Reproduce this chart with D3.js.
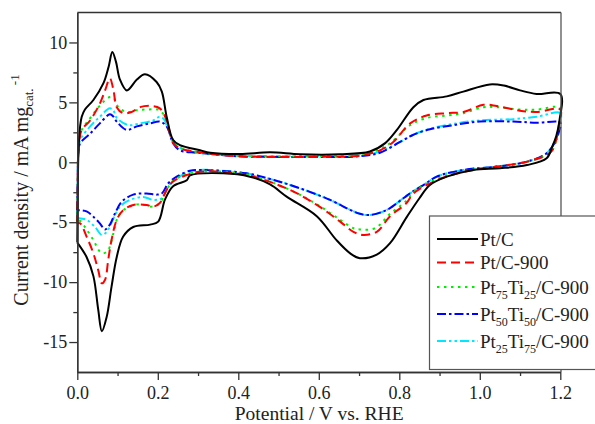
<!DOCTYPE html>
<html>
<head>
<meta charset="utf-8">
<script src="https://cdn.jsdelivr.net/npm/d3@7/dist/d3.min.js"></script>
<style>
  html, body { margin: 0; padding: 0; background: #fff; }
  svg { display: block; font-family: "Liberation Serif", "Times New Roman", serif; }
  svg text { font-family: "Liberation Serif", "Times New Roman", serif !important; fill: #222; }
</style>
</head>
<body>
<svg id="chart" width="595" height="424"></svg>
<script>
// ---- data (potential V, current density mA/mg) ----
const seriesNames = ["Pt/C", "Pt/C-900", "Pt75Ti25/C-900", "Pt50Ti50/C-900", "Pt25Ti75/C-900"];

const ptC = [
  [0,-6.7],[0.001,-3],[0.003,1],[0.007,3.0],[0.011,3.8],[0.019,4.4],[0.04,5.2],[0.065,6.6],[0.078,8.0],[0.087,9.2],
  [0.096,8.4],[0.106,6.9],[0.123,6.0],[0.148,6.9],[0.168,7.35],[0.197,6.7],[0.21,5.9],[0.222,3.8],[0.238,1.86],
  [0.255,1.44],[0.305,1.0],[0.33,0.8],[0.404,0.69],[0.479,0.83],[0.553,0.67],[0.653,0.67],[0.727,0.9],[0.765,1.6],
  [0.794,2.7],[0.835,4.6],[0.86,5.2],[0.918,5.5],[0.959,5.9],[1.025,6.5],[1.06,6.4],[1.1,6.0],[1.141,5.7],[1.2,5.7],
  [1.198,3.5],[1.19,2.2],[1.18,1.3],[1.166,0.33],[1.117,-0.23],[1.05,-0.5],[0.984,-0.64],[0.918,-1.2],[0.876,-1.9],
  [0.85,-3.0],[0.818,-4.6],[0.777,-6.75],[0.744,-7.7],[0.702,-8.0],[0.678,-7.6],[0.644,-6.5],[0.595,-4.5],[0.52,-2.87],
  [0.479,-1.85],[0.429,-1.2],[0.363,-0.92],[0.28,-1.1],[0.272,-1.5],[0.238,-2.0],[0.218,-3.1],[0.201,-4.95],[0.181,-5.2],
  [0.139,-5.4],[0.114,-6.2],[0.098,-7.9],[0.085,-10.4],[0.073,-12.9],[0.061,-14.1],[0.052,-12.3],[0.04,-9.5],
  [0.023,-7.9],[0,-6.7]
];

const ptC900 = [
  [0,-5.1],[0.001,-2],[0.002,0.5],[0.005,1.8],[0.011,2.7],[0.032,3.5],[0.056,4.9],[0.069,6.0],[0.081,7.0],[0.09,6.0],
  [0.098,4.6],[0.114,4.1],[0.135,4.2],[0.156,4.6],[0.185,4.7],[0.205,4.5],[0.222,3.5],[0.238,1.6],[0.255,1.17],
  [0.3,0.85],[0.4,0.5],[0.5,0.45],[0.6,0.45],[0.7,0.55],[0.752,1.0],[0.785,1.7],[0.827,3.25],[0.868,3.9],[0.918,4.1],
  [0.959,4.2],[1.009,4.8],[1.042,4.7],[1.1,4.3],[1.141,4.2],[1.2,4.4],
  [1.197,3.2],[1.19,1.9],[1.18,1.0],[1.166,0.6],[1.117,0.05],[1.042,-0.36],[0.959,-0.8],[0.893,-1.5],[0.835,-2.6],
  [0.818,-3.4],[0.777,-4.5],[0.744,-5.8],[0.71,-6.06],[0.686,-5.8],[0.653,-4.95],[0.595,-3.56],[0.528,-2.3],[0.42,-1.06],
  [0.305,-0.78],[0.272,-1.06],[0.238,-1.6],[0.222,-2.3],[0.205,-3.4],[0.189,-3.7],[0.172,-3.56],[0.139,-3.56],
  [0.114,-4.0],[0.098,-4.8],[0.085,-6.5],[0.077,-8.1],[0.069,-9.8],[0.061,-10.1],[0.052,-9.0],[0.04,-7.6],[0.023,-6.2],
  [0.007,-5.1],[0,-5.1]
];

const pt75 = [
  [0,-4.9],[0.001,-2],[0.002,0.5],[0.005,1.8],[0.011,2.7],[0.03,3.6],[0.048,4.4],[0.065,5.05],[0.081,5.45],[0.09,5.4],
  [0.102,4.6],[0.123,4.2],[0.148,4.35],[0.172,4.4],[0.205,4.35],[0.222,3.4],[0.238,1.7],[0.255,1.2],[0.3,0.85],
  [0.4,0.55],[0.5,0.5],[0.6,0.5],[0.7,0.6],[0.752,1.1],[0.785,1.8],[0.827,3.1],[0.868,3.7],[0.918,3.9],[0.959,4.1],
  [1.009,4.6],[1.042,4.6],[1.1,4.4],[1.141,4.4],[1.2,4.55],
  [1.197,3.2],[1.19,1.9],[1.18,1.0],[1.166,0.6],[1.117,0.05],[1.042,-0.36],[0.959,-0.75],[0.893,-1.4],[0.835,-2.5],
  [0.818,-3.2],[0.777,-4.3],[0.74,-5.5],[0.702,-5.6],[0.686,-5.5],[0.653,-4.8],[0.595,-3.5],[0.528,-2.3],[0.42,-1.0],
  [0.305,-0.78],[0.272,-1.0],[0.238,-1.55],[0.222,-2.3],[0.205,-3.4],[0.185,-3.7],[0.156,-3.5],[0.123,-3.8],
  [0.102,-4.5],[0.09,-5.9],[0.077,-7.3],[0.065,-7.6],[0.056,-7.45],[0.04,-6.5],[0.023,-5.6],[0.007,-4.9],[0,-4.9]
];

const pt50 = [
  [0,-4.0],[0.001,-1.5],[0.002,0.5],[0.004,1.2],[0.007,1.6],[0.032,2.4],[0.056,3.25],[0.081,4.0],[0.09,3.8],
  [0.098,3.4],[0.123,2.7],[0.148,3.0],[0.181,3.25],[0.205,3.4],[0.222,3.0],[0.238,1.6],[0.255,1.0],[0.3,0.8],
  [0.4,0.5],[0.5,0.45],[0.6,0.45],[0.7,0.5],[0.752,0.8],[0.802,1.7],[0.835,2.3],[0.876,2.75],[0.934,3.1],[1.0,3.4],
  [1.083,3.4],[1.141,3.3],[1.2,3.3],
  [1.197,2.6],[1.187,1.7],[1.166,0.75],[1.117,0.05],[1.042,-0.36],[0.959,-0.64],[0.893,-1.2],[0.86,-1.9],[0.835,-2.4],
  [0.81,-3.0],[0.769,-3.97],[0.727,-4.4],[0.702,-4.3],[0.678,-3.97],[0.628,-3.14],[0.553,-2.17],[0.487,-1.47],
  [0.42,-0.92],[0.3,-0.64],[0.28,-0.7],[0.247,-1.2],[0.226,-1.75],[0.21,-2.6],[0.197,-2.7],[0.172,-2.6],[0.139,-2.7],
  [0.11,-3.3],[0.094,-4.25],[0.081,-5.2],[0.069,-5.6],[0.056,-5.1],[0.044,-4.67],[0.023,-4.1],[0.002,-4.0],[0,-4.0]
];

const pt25 = [
  [0,-4.67],[0.001,-1.5],[0.002,0.5],[0.004,1.3],[0.007,1.86],[0.032,3.0],[0.056,3.8],[0.081,4.5],[0.09,4.3],
  [0.098,3.7],[0.127,3.1],[0.156,3.25],[0.189,3.5],[0.205,3.8],[0.215,3.6],[0.23,2.4],[0.247,1.44],[0.28,0.9],
  [0.4,0.55],[0.5,0.5],[0.6,0.5],[0.7,0.55],[0.752,0.9],[0.802,1.7],[0.835,2.3],[0.876,2.8],[0.934,3.2],[1.0,3.5],
  [1.083,3.6],[1.141,3.8],[1.2,4.1],
  [1.197,3.0],[1.187,1.8],[1.166,0.75],[1.117,0.05],[1.042,-0.36],[0.959,-0.64],[0.893,-1.2],[0.86,-1.9],[0.835,-2.4],
  [0.81,-3.0],[0.769,-3.97],[0.727,-4.4],[0.702,-4.3],[0.678,-3.97],[0.628,-3.14],[0.553,-2.17],[0.487,-1.47],
  [0.42,-0.92],[0.3,-0.64],[0.28,-0.8],[0.247,-1.33],[0.226,-2.0],[0.21,-3.0],[0.189,-3.14],[0.164,-2.9],[0.131,-3.14],
  [0.106,-3.7],[0.09,-4.67],[0.073,-5.8],[0.061,-6.06],[0.044,-5.4],[0.023,-4.8],[0.002,-4.67],[0,-4.67]
];

const xMajorTicks = [0.0, 0.2, 0.4, 0.6, 0.8, 1.0, 1.2];
const xMinorTicks = [0.1, 0.3, 0.5, 0.7, 0.9, 1.1];
const yMajorTicks = [-15, -10, -5, 0, 5, 10];
const yMinorTicks = [-12.5, -7.5, -2.5, 2.5, 7.5];

// ---- layout ----
const FONT = "Liberation Serif, Times New Roman, serif";
const svg = d3.select("#chart");
const L = 77.3, R = 561, T = 12.5, B = 372;
const x = d3.scaleLinear().domain([0, 1.2]).range([L, 560.3]);
const y = d3.scaleLinear().domain([-17.5, 12.5]).range([B, T]);

const styles = [
  { data: ptC,    color: "#000000", dash: null },
  { data: ptC900, color: "#ff0000", dash: "9,5" },
  { data: pt75,   color: "#00ee00", dash: "2.5,4.5" },
  { data: pt50,   color: "#0000ff", dash: "9,3,2.5,3" },
  { data: pt25,   color: "#00e8ff", dash: "9,3,2.5,3,2.5,3" }
];

const line = d3.line().x(d => x(d[0])).y(d => y(d[1])).curve(d3.curveCatmullRom.alpha(0.5));

// draw order: back to front
const order = [4, 3, 2, 1, 0];
order.forEach(i => {
  const s = styles[i];
  svg.append("path")
    .attr("d", line(s.data))
    .attr("fill", "none")
    .attr("stroke", s.color)
    .attr("stroke-width", 2)
    .attr("stroke-linejoin", "round")
    .attr("stroke-dasharray", s.dash);
});

// frame top and right
svg.append("line").attr("x1", L).attr("x2", R).attr("y1", T).attr("y2", T)
  .attr("stroke", "#333").attr("stroke-width", 1.3);
svg.append("line").attr("x1", R).attr("x2", R).attr("y1", T).attr("y2", B)
  .attr("stroke", "#555").attr("stroke-width", 1.3);

// axes
const xAxis = svg.append("g").attr("transform", `translate(0,${B})`)
  .call(d3.axisBottom(x).tickValues(xMajorTicks).tickSize(8).tickSizeOuter(0).tickPadding(6)
    .tickFormat(d3.format(".1f")));
const xMinor = svg.append("g").attr("transform", `translate(0,${B})`)
  .call(d3.axisBottom(x).tickValues(xMinorTicks).tickSize(4).tickSizeOuter(0).tickFormat(""));
const yAxis = svg.append("g").attr("transform", `translate(${L},0)`)
  .call(d3.axisLeft(y).tickValues(yMajorTicks).tickSize(8).tickSizeOuter(0).tickPadding(2)
    .tickFormat(d => String(d)));
const yMinor = svg.append("g").attr("transform", `translate(${L},0)`)
  .call(d3.axisLeft(y).tickValues(yMinorTicks).tickSize(4).tickSizeOuter(0).tickFormat(""));

[xAxis, xMinor, yAxis, yMinor].forEach(g => {
  g.attr("font-family", FONT);
  g.selectAll("path.domain").attr("stroke", "#333").attr("stroke-width", 1.3);
  g.selectAll(".tick line").attr("stroke", "#333").attr("stroke-width", 1.3);
  g.selectAll(".tick text").attr("font-size", 18).attr("fill", "#222").attr("font-family", FONT);
});

// axis titles
svg.append("text").attr("x", (L + R) / 2).attr("y", 420).attr("text-anchor", "middle")
  .attr("font-family", FONT).attr("font-size", 19.5).text("Potential / V vs. RHE");

const yt = svg.append("text").attr("transform", "translate(28,190) rotate(-90)")
  .attr("text-anchor", "middle").attr("font-family", FONT).attr("font-size", 20);
yt.append("tspan").text("Current density / mA mg");
yt.append("tspan").attr("font-size", 13).attr("dy", 5).text("cat.");
yt.append("tspan").attr("font-size", 13).attr("dy", -14).text(" -1");

// legend
const lg = svg.append("g").attr("font-family", FONT);
lg.append("rect").attr("x", 429.5).attr("y", 216).attr("width", 180).attr("height", 153.5)
  .attr("fill", "#fff").attr("stroke", "#555").attr("stroke-width", 1.2);

const legendY = [239, 262.5, 287, 314, 341];
const legendLabels = [
  [["Pt/C", false]],
  [["Pt/C-900", false]],
  [["Pt", false], ["75", true], ["Ti", false], ["25", true], ["/C-900", false]],
  [["Pt", false], ["50", true], ["Ti", false], ["50", true], ["/C-900", false]],
  [["Pt", false], ["25", true], ["Ti", false], ["75", true], ["/C-900", false]]
];
styles.forEach((s, i) => {
  const yy = legendY[i];
  lg.append("line").attr("x1", 437).attr("x2", 478).attr("y1", yy).attr("y2", yy)
    .attr("stroke", s.color).attr("stroke-width", 2).attr("stroke-dasharray", s.dash);
  const t = lg.append("text").attr("x", 480).attr("y", yy + 6.5).attr("font-size", 19)
    .attr("font-family", FONT);
  let shifted = false;
  legendLabels[i].forEach(([txt, sub]) => {
    const ts = t.append("tspan").text(txt);
    if (sub && !shifted) { ts.attr("font-size", 12).attr("dy", 5); shifted = true; }
    else if (sub && shifted) { ts.attr("font-size", 12); }
    else if (!sub && shifted) { ts.attr("dy", -5); shifted = false; }
  });
});
</script>
</body>
</html>
